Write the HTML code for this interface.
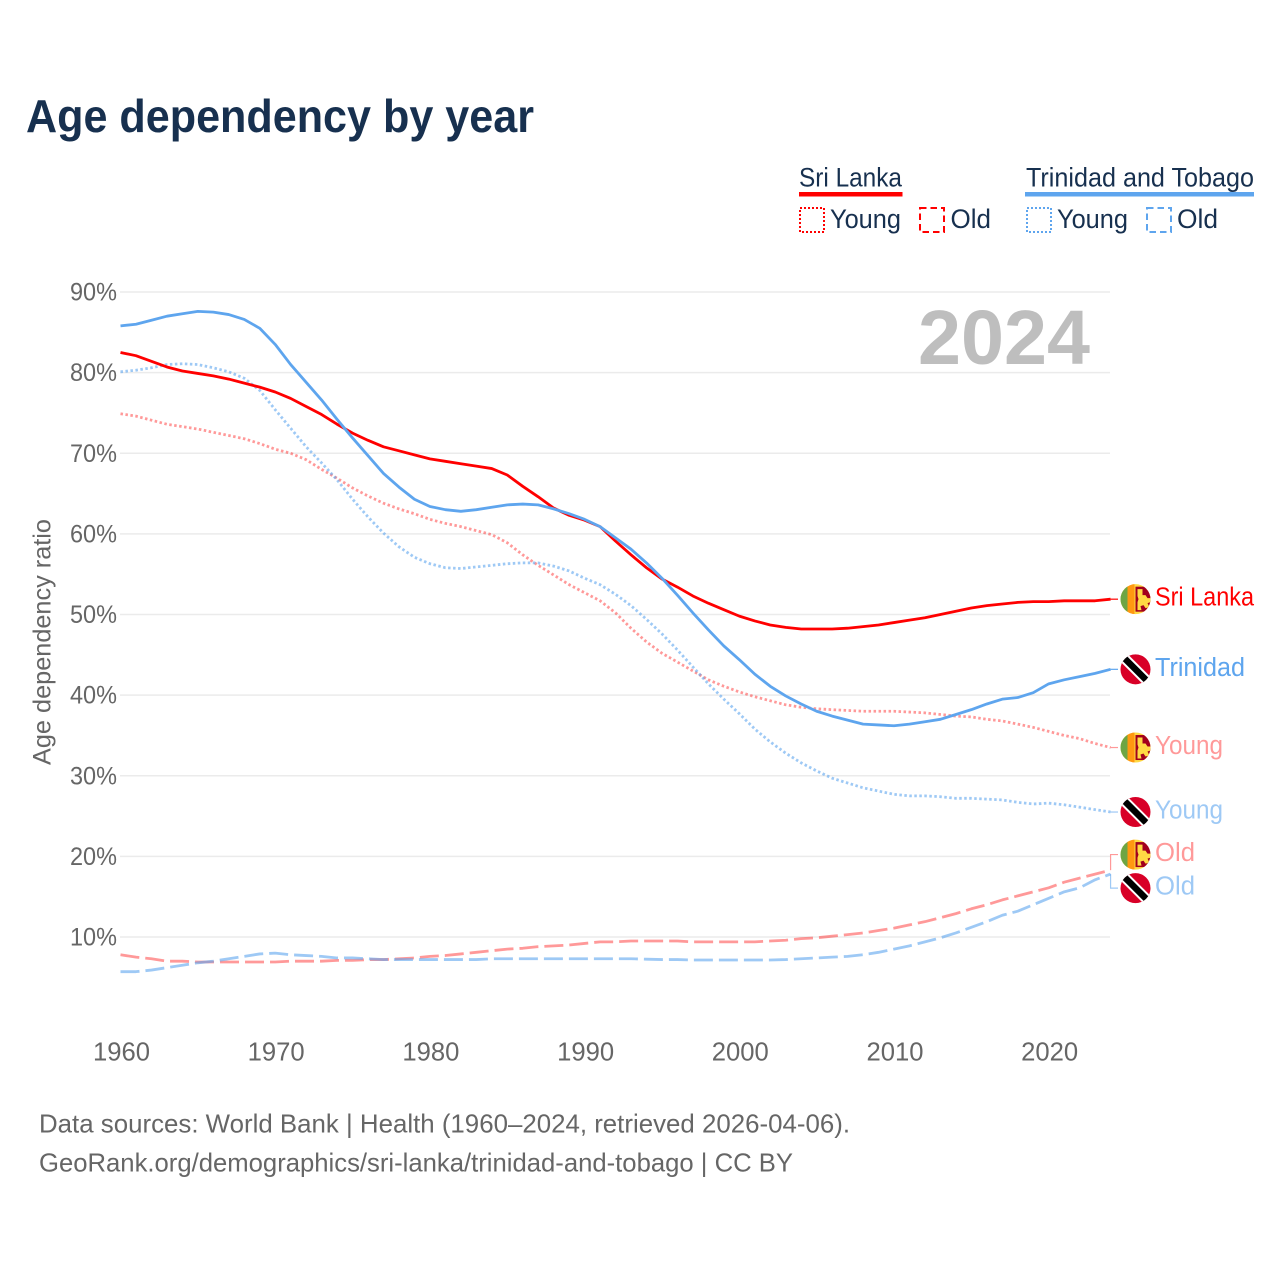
<!DOCTYPE html>
<html lang="en">
<head>
<meta charset="utf-8">
<title>Age dependency by year</title>
<style>
  html, body { margin: 0; padding: 0; background: #fff; }
  svg { display: block; font-family: "Liberation Sans", sans-serif; }
</style>
</head>
<body>
<svg id="chart" width="1280" height="1280" viewBox="0 0 1280 1280" xmlns="http://www.w3.org/2000/svg">
  <defs>
    <clipPath id="flag-clip"><circle cx="0" cy="0" r="15"/></clipPath>
    <g id="flag-lk" clip-path="url(#flag-clip)">
      <rect x="-15" y="-16" width="30" height="32" fill="#ffda44"/>
      <rect x="-15" y="-16" width="7" height="32" fill="#6da544"/>
      <rect x="-8" y="-16" width="7" height="32" fill="#ff9811"/>
      <rect x="0" y="-12.5" width="16" height="25" fill="#a2001d"/>
      <path d="M2-10h5v6h3l2 3h3v4l-3 1 2 4-4 1-2-3-3 1 1 4H2V3l1-3-1-3z" fill="#ffda44"/>
    </g>
    <g id="flag-tt" clip-path="url(#flag-clip)">
      <rect x="-16" y="-16" width="32" height="32" fill="#d80027"/>
      <path d="M-20-20L20 20" stroke="#fff" stroke-width="10.5"/>
      <path d="M-20-20L20 20" stroke="#000" stroke-width="6.5"/>
    </g>
  </defs>

  <text x="26" y="132" font-size="46" font-weight="700" fill="#17304f" textLength="508" lengthAdjust="spacingAndGlyphs">Age dependency by year</text>

  <g font-size="27" fill="#17304f">
    <g>
      <text x="799" y="186.5" textLength="103" lengthAdjust="spacingAndGlyphs">Sri Lanka</text>
      <rect x="799" y="192" width="103.5" height="4.5" fill="#ff0000"/>
      <rect x="800" y="208" width="24" height="24" fill="none" stroke="#ff0000" stroke-width="2" stroke-dasharray="2 2"/>
      <text x="830" y="228" textLength="71" lengthAdjust="spacingAndGlyphs">Young</text>
      <rect x="920" y="208" width="24" height="24" fill="none" stroke="#ff0000" stroke-width="2" stroke-dasharray="6.5 4"/>
      <text x="950.5" y="228" textLength="40.5" lengthAdjust="spacingAndGlyphs">Old</text>
    </g>
    <g>
      <text x="1026" y="186.5" textLength="228" lengthAdjust="spacingAndGlyphs">Trinidad and Tobago</text>
      <rect x="1025" y="192" width="229" height="4.5" fill="#5ea5ee"/>
      <rect x="1027" y="208" width="24" height="24" fill="none" stroke="#5ea5ee" stroke-width="2" stroke-dasharray="2 2"/>
      <text x="1057" y="228" textLength="71" lengthAdjust="spacingAndGlyphs">Young</text>
      <rect x="1147" y="208" width="24" height="24" fill="none" stroke="#5ea5ee" stroke-width="2" stroke-dasharray="6.5 4"/>
      <text x="1177" y="228" textLength="41" lengthAdjust="spacingAndGlyphs">Old</text>
    </g>
  </g>

  <text x="918" y="364" font-size="77" font-weight="700" fill="#bebebe" textLength="172" lengthAdjust="spacingAndGlyphs">2024</text>

  <text transform="translate(50.5 765) rotate(-90)" font-size="25" fill="#666666" textLength="246" lengthAdjust="spacingAndGlyphs">Age dependency ratio</text>

  <g id="grid"></g>
  <g id="ticks"></g>
  <g id="series"></g>
  <g id="ends"></g>

  <g font-size="26" fill="#666666">
    <text x="39" y="1132.5" textLength="811" lengthAdjust="spacingAndGlyphs">Data sources: World Bank | Health (1960–2024, retrieved 2026-04-06).</text>
    <text x="39" y="1171.5" textLength="754" lengthAdjust="spacingAndGlyphs">GeoRank.org/demographics/sri-lanka/trinidad-and-tobago | CC BY</text>
  </g>
</svg>

<script>
const years = [1960,1961,1962,1963,1964,1965,1966,1967,1968,1969,
  1970,1971,1972,1973,1974,1975,1976,1977,1978,1979,
  1980,1981,1982,1983,1984,1985,1986,1987,1988,1989,
  1990,1991,1992,1993,1994,1995,1996,1997,1998,1999,
  2000,2001,2002,2003,2004,2005,2006,2007,2008,2009,
  2010,2011,2012,2013,2014,2015,2016,2017,2018,2019,
  2020,2021,2022,2023,2024];

const sriLankaTotal = [82.5,82.1,81.4,80.7,80.2,79.9,79.6,79.2,78.7,78.2,
  77.6,76.8,75.8,74.8,73.6,72.5,71.6,70.8,70.3,69.8,
  69.3,69.0,68.7,68.4,68.1,67.3,65.9,64.6,63.2,62.3,
  61.7,60.9,59.1,57.4,55.8,54.4,53.4,52.3,51.4,50.6,
  49.8,49.2,48.7,48.4,48.2,48.2,48.2,48.3,48.5,48.7,
  49.0,49.3,49.6,50.0,50.4,50.8,51.1,51.3,51.5,51.6,
  51.6,51.7,51.7,51.7,51.9];

const sriLankaYoung = [74.9,74.6,74.1,73.6,73.3,73.0,72.6,72.2,71.8,71.2,
  70.5,70.0,69.2,68.0,66.9,65.7,64.7,63.8,63.1,62.5,
  61.8,61.3,60.9,60.4,59.9,58.9,57.4,56.1,54.9,53.7,
  52.7,51.7,50.2,48.3,46.6,45.2,44.1,43.0,41.9,41.1,
  40.4,39.8,39.3,38.8,38.5,38.3,38.2,38.1,38.0,38.0,
  38.0,37.9,37.8,37.6,37.4,37.3,37.0,36.8,36.4,36.0,
  35.5,35.0,34.6,34.0,33.5];

const sriLankaOld = [7.8,7.5,7.3,7.0,7.0,6.9,6.9,6.9,6.9,6.9,
  6.9,7.0,7.0,7.0,7.1,7.1,7.2,7.2,7.3,7.4,
  7.6,7.7,7.9,8.1,8.3,8.5,8.6,8.8,8.9,9.0,
  9.2,9.4,9.4,9.5,9.5,9.5,9.5,9.4,9.4,9.4,
  9.4,9.4,9.5,9.6,9.8,9.9,10.1,10.3,10.5,10.8,
  11.1,11.5,11.9,12.4,12.9,13.5,14.0,14.6,15.1,15.6,
  16.1,16.8,17.3,17.8,18.3];

const trinidadTotal = [85.8,86.0,86.5,87.0,87.3,87.6,87.5,87.2,86.6,85.5,
  83.5,81.0,78.8,76.6,74.2,71.9,69.7,67.5,65.8,64.3,
  63.4,63.0,62.8,63.0,63.3,63.6,63.7,63.6,63.1,62.5,
  61.8,60.9,59.5,58.1,56.4,54.5,52.4,50.2,48.1,46.1,
  44.4,42.6,41.1,39.9,38.9,38.0,37.4,36.9,36.4,36.3,
  36.2,36.4,36.7,37.0,37.6,38.2,38.9,39.5,39.7,40.3,
  41.4,41.9,42.3,42.7,43.2];

const trinidadYoung = [80.1,80.3,80.6,81.0,81.1,81.0,80.6,80.1,79.3,77.8,
  75.4,73.1,70.8,68.8,66.7,64.3,62.1,60.1,58.4,57.1,
  56.3,55.8,55.7,55.9,56.1,56.3,56.4,56.4,56.0,55.4,
  54.5,53.7,52.5,51.1,49.4,47.6,45.6,43.5,41.4,39.5,
  37.7,35.8,34.2,32.8,31.6,30.6,29.7,29.1,28.5,28.1,
  27.7,27.5,27.5,27.4,27.2,27.2,27.1,27.0,26.7,26.5,
  26.6,26.4,26.1,25.8,25.5];

const trinidadOld = [5.7,5.7,5.9,6.2,6.5,6.8,7.0,7.3,7.6,7.9,
  8.0,7.8,7.7,7.6,7.4,7.4,7.3,7.2,7.2,7.2,
  7.2,7.2,7.2,7.2,7.3,7.3,7.3,7.3,7.3,7.3,
  7.3,7.3,7.3,7.3,7.25,7.2,7.2,7.15,7.15,7.15,
  7.15,7.15,7.15,7.2,7.3,7.4,7.5,7.6,7.8,8.1,
  8.5,8.9,9.4,9.9,10.5,11.2,11.9,12.7,13.2,14.0,
  14.8,15.6,16.1,17.1,17.8];

const yTickValues = [10,20,30,40,50,60,70,80,90];
const yTickLabels = ["10%","20%","30%","40%","50%","60%","70%","80%","90%"];
const xTickValues = [1960,1970,1980,1990,2000,2010,2020];
const xTickLabels = ["1960","1970","1980","1990","2000","2010","2020"];

const SVG_NS = "http://www.w3.org/2000/svg";
const RED = "#ff0000";
const BLUE = "#5ea5ee";
const DOTTED = "2.5 2.5";
const DASHED = "19 6";

function xScale(year) { return 120.5 + (year - 1960) * 15.47; }
function yScale(value) { return 937 - (value - 10) * 8.0625; }

function make(tag, parent, attrs) {
  const el = document.createElementNS(SVG_NS, tag);
  Object.keys(attrs).forEach(function (k) { el.setAttribute(k, attrs[k]); });
  parent.appendChild(el);
  return el;
}

const gridLayer = document.getElementById("grid");
const tickLayer = document.getElementById("ticks");
const seriesLayer = document.getElementById("series");
const endLayer = document.getElementById("ends");

yTickValues.forEach(function (v, i) {
  const line = make("line", gridLayer, { x1: 120, x2: 1110, y1: yScale(v), y2: yScale(v), stroke: "#ebebeb", "stroke-width": 1.4 });
  
  
  const label = make("text", tickLayer, { x: 117, y: yScale(v) + 8.5, "text-anchor": "end", "font-size": 25, fill: "#666666", textLength: 47, lengthAdjust: "spacingAndGlyphs" });
  label.textContent = yTickLabels[i];
  
  
});

xTickValues.forEach(function (v, i) {
  const label = make("text", tickLayer, { x: xScale(v) + 1, y: 1060.5, "text-anchor": "middle", "font-size": 25.5, fill: "#666666", textLength: 57, lengthAdjust: "spacingAndGlyphs" });
  label.textContent = xTickLabels[i];
  
  
});

const seriesDefs = [
  { id: "sri-lanka-young", values: sriLankaYoung, color: RED, opacity: 0.4, dash: DOTTED, flag: "flag-lk", text: "Young", width: 68, shift: 0 },
  { id: "sri-lanka-old", values: sriLankaOld, color: RED, opacity: 0.4, dash: DASHED, flag: "flag-lk", text: "Old", width: 40, shift: -15.5 },
  { id: "trinidad-young", values: trinidadYoung, color: BLUE, opacity: 0.6, dash: DOTTED, flag: "flag-tt", text: "Young", width: 68, shift: 0 },
  { id: "trinidad-old", values: trinidadOld, color: BLUE, opacity: 0.6, dash: DASHED, flag: "flag-tt", text: "Old", width: 40, shift: 14 },
  { id: "sri-lanka-total", values: sriLankaTotal, color: RED, opacity: 1, dash: "", flag: "flag-lk", text: "Sri Lanka", width: 99, shift: 0 },
  { id: "trinidad-total", values: trinidadTotal, color: BLUE, opacity: 1, dash: "", flag: "flag-tt", text: "Trinidad", width: 90, shift: 0 }
];

seriesDefs.forEach(function (s) {
  const d = s.values.map(function (v, i) {
    return (i ? "L" : "M") + xScale(years[i]).toFixed(2) + " " + yScale(v).toFixed(2);
  }).join("");
  const path = make("path", seriesLayer, { d: d, fill: "none", stroke: s.color, "stroke-opacity": s.opacity, "stroke-width": 2.8, "stroke-linejoin": "round" });
  if (s.dash) path.setAttribute("stroke-dasharray", s.dash);
  
  

  const endX = xScale(years[years.length - 1]);
  const endY = yScale(s.values[s.values.length - 1]);
  const labelY = endY + s.shift;

  const connector = make("path", endLayer, {
    d: "M" + endX + " " + endY + "L" + endX + " " + labelY + "L1118 " + labelY,
    fill: "none", stroke: s.color, "stroke-opacity": s.opacity, "stroke-width": 1.2
  });
  
  

  const flag = make("use", endLayer, { href: "#" + s.flag, transform: "translate(1135.5 " + labelY + ")" });
  
  

  const label = make("text", endLayer, { x: 1155, y: labelY + 6.5, "font-size": 25.5, fill: s.color, "fill-opacity": s.opacity, textLength: s.width, lengthAdjust: "spacingAndGlyphs" });
  label.textContent = s.text;
  
  
});
</script>
</body>
</html>
